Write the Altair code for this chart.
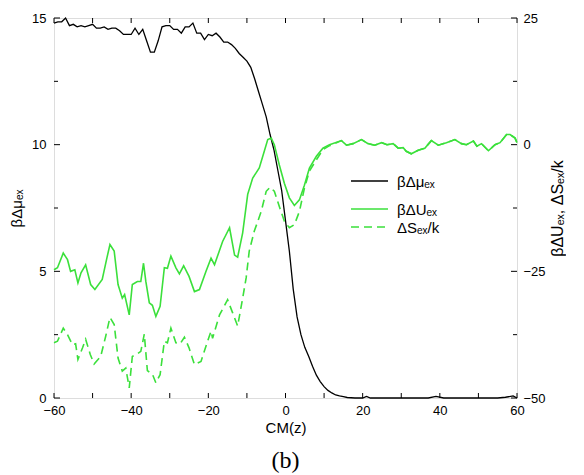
import altair as alt
import pandas as pd

# --- data ---
mu_x = [-60, -59, -58, -57, -56, -55, -54, -53, -52, -51, -50, -49, -48, -47, -46, -45, -44, -43,
        -42, -41, -40, -39, -38, -37, -36, -35, -34, -33, -32, -31, -30, -29, -28, -27, -26, -25,
        -24, -23, -22, -21, -20, -19, -18, -17, -16, -15, -14, -13, -12, -11, -10, -9, -8, -7, -6,
        -5, -4, -3, -2, -1, 0, 1, 2, 3, 4, 5, 6, 7, 8, 9, 10, 11, 12, 13, 14, 15, 16, 18, 20, 21,
        22, 24, 30, 37, 39, 41, 45, 55, 57, 59, 60]
mu_v = [14.8, 14.85, 14.85, 15.0, 14.7, 14.75, 14.65, 14.7, 14.65, 14.7, 14.75, 14.6, 14.6, 14.65,
        14.55, 14.6, 14.6, 14.5, 14.35, 14.35, 14.35, 14.6, 14.35, 14.55, 14.1, 13.65, 13.65, 14.1,
        14.65, 14.7, 14.7, 14.55, 14.55, 14.4, 14.65, 14.65, 14.8, 14.4, 14.4, 14.15, 14.35, 14.3,
        14.4, 14.25, 14.05, 14.05, 13.95, 13.8, 13.6, 13.45, 13.3, 13.05, 12.6, 12.1, 11.6, 11.1,
        10.4, 9.8, 9.0, 8.2, 7.0, 5.8, 4.3, 3.2, 2.5, 2.0, 1.65, 1.25, 0.9, 0.65, 0.45, 0.3, 0.2,
        0.12, 0.08, 0.05, 0.02, 0.0, 0.0, 0.06, 0.0, 0.0, 0.0, 0.0, 0.06, 0.0, 0.0, 0.0, 0.03, 0.08, 0.0]

u_x = [-60, -59.1, -57.6, -56.5, -55.7, -54.6, -53.8, -53, -51.8, -50.5, -49.4, -47.5, -46.3, -45.5,
       -44.4, -43.4, -42.3, -41.7, -40.5, -39.7, -38.4, -37.5, -36.8, -36.2, -35.3, -34.5, -33.6,
       -32.5, -31.4, -30.6, -29.7, -28.4, -27.5, -26.4, -25, -23.6, -22.3, -20.6, -19.3, -18.4,
       -16.3, -14.5, -13.2, -12.4, -11.1, -9.8, -8.5, -6.8, -5.5, -4.6, -3.7, -2.9, -1.6, -0.3,
       1.0, 2.3, 3.6, 4.9, 6.2, 8.0, 9.7, 11.4, 14.5, 15.8, 17.5, 19.7, 21.4, 23.1, 24.9, 26.3,
       27.9, 29.2, 30.5, 31.3, 32.6, 34.4, 36.1, 37.8, 39.6, 41.7, 43.9, 45.6, 46.9, 48.7, 49.6,
       50.8, 52.6, 54.3, 55.6, 57.3, 58.2, 59.5, 60]
u_v = [-24.7, -24.3, -21.4, -22.7, -25, -24.7, -27.3, -25.3, -23.7, -27.6, -28.6, -26.6, -22.4,
       -19.7, -21, -27.6, -30.3, -29.6, -33.6, -27.6, -27, -27, -23.4, -27, -31.2, -31.7, -33.9,
       -31.9, -24.3, -24.4, -22.0, -24.3, -25.5, -23.9, -26, -29, -28.6, -25, -22.4, -23.7, -19.1,
       -16.4, -21.8, -22.2, -17.4, -9.8, -6.6, -4.6, -1.3, 1.0, 1.3, 0.0, -4.0, -7.6, -10.5, -12.0,
       -10.9, -8.0, -4.6, -2.3, -0.7, 0.0, 0.8, -0.1, 0.2, 1.0, 0.2, -0.1, 0.4, 0.0, 0.2, -0.7,
       -0.6, -1.3, -1.8, -1.1, -0.7, 0.8, -0.1, 0.4, 1.0, 0.2, 0.0, 0.7, -0.3, 0.2, -1.2, 0.0, 0.4,
       2.0, 2.0, 1.3, 0.4]

s_x = [-60, -59.1, -57.6, -56.5, -55.2, -54.4, -53.8, -52.6, -51.8, -50.6, -49.6, -47.9, -46.6,
       -45.5, -44.4, -43.4, -42.3, -41.4, -40.5, -39.7, -38.4, -37.5, -36.6, -35.8, -34.5, -33.6,
       -32.5, -31.4, -30.6, -29.7, -28.4, -27.3, -26.2, -25, -23.6, -21.9, -20.2, -19.3, -18.9,
       -17.1, -15, -13.7, -12.4, -11.1, -10.2, -9.4, -8.1, -6.3, -5, -4, -2.9, -1.6, -0.3, 1.0,
       2.3, 3.6, 4.9, 6.2, 8.0, 9.7, 11.4, 14.5, 15.8, 17.5, 19.7, 21.4, 23.1, 24.9, 26.3, 27.9,
       29.2, 30.5, 31.3, 32.6, 34.4, 36.1, 37.8, 39.6, 41.7, 43.9, 45.6, 46.9, 48.7, 49.6, 50.8,
       52.6, 54.3, 55.6, 57.3, 58.2, 59.5, 60]
s_v = [-39.1, -38.8, -36.2, -37.5, -39.5, -39.3, -42.4, -40.1, -38.4, -41.4, -43.3, -41.8, -37.8,
       -34.1, -35.5, -42.1, -44.7, -44.1, -48.0, -41.8, -41.3, -40.8, -37.4, -44.6, -45.3, -47.0,
       -45.4, -38.8, -39.1, -36.2, -39.1, -39.3, -38.0, -40.1, -43.4, -42.8, -38.8, -36.8, -38.2,
       -33.6, -30.6, -33.2, -35.8, -30.3, -26.3, -21.0, -17.1, -13.2, -9.2, -8.4, -9.2, -12.2,
       -15.1, -16.4, -15.8, -13.2, -8.6, -5.2, -3.0, -1.0, -0.2, 0.8, -0.1, 0.2, 1.0, 0.2, -0.1,
       0.4, 0.0, 0.2, -0.7, -0.6, -1.3, -1.8, -1.1, -0.7, 0.8, -0.1, 0.4, 1.0, 0.2, 0.0, 0.7,
       -0.3, 0.2, -1.2, 0.0, 0.4, 2.0, 2.0, 1.3, 0.4]

x_ticks = [-60, -50, -40, -30, -20, -10, 0, 10, 20, 30, 40, 50, 60]
x_labels = [-60, -40, -20, 0, 20, 40, 60]
left_major = [0, 5, 10, 15]
left_minor = [2.5, 7.5, 12.5]
right_major = [-50, -25, 0, 25]
right_minor = [-37.5, -12.5, 12.5]

legend_labels = ["βΔμₑₓ", "βΔUₑₓ", "ΔSₑₓ/k"]

W, H = 463, 380
GREEN = "#3be03b"
FONT = "Liberation Sans"

xscale = alt.Scale(domain=[-60, 60], nice=False, zero=False)
xaxis = alt.Axis(values=x_labels, title="CM(z)", tickSize=0, domain=False, grid=False,
                 labelFontSize=13, titleFontSize=15, labelPadding=6, titlePadding=3,
                 labelFlush=False,
                 titleFont=FONT, labelFont=FONT, titleFontWeight="normal", labelColor="black",
                 titleColor="black")
lscale = alt.Scale(domain=[0, 15], nice=False, zero=False)
laxis = alt.Axis(values=left_major, title="βΔμₑₓ", tickSize=0, domain=False, grid=False,
                 labelFontSize=13, titleFontSize=15, labelPadding=8, titlePadding=7,
                 labelFlush=False,
                 titleFont=FONT, labelFont=FONT, titleFontWeight="normal", labelColor="black",
                 titleColor="black")
rscale = alt.Scale(domain=[-50, 25], nice=False, zero=False)
raxis = alt.Axis(values=right_major, title="βΔUₑₓ, ΔSₑₓ/k", orient="right", tickSize=0,
                 domain=False, grid=False, labelFontSize=13, titleFontSize=16, labelPadding=6,
                 titlePadding=20, titleAngle=270, titleFont=FONT, labelFont=FONT,
                 labelFlush=False,
                 titleFontWeight="normal", labelColor="black", titleColor="black")

mu_df = pd.DataFrame({"x": mu_x, "v": mu_v})
u_df = pd.DataFrame({"x": u_x, "v": u_v})
s_df = pd.DataFrame({"x": s_x, "v": s_v})

black = alt.Chart(mu_df).mark_line(color="black", strokeWidth=1.3).encode(
    x=alt.X("x:Q", scale=xscale, axis=xaxis),
    y=alt.Y("v:Q", scale=lscale, axis=laxis),
)

lt_major = alt.Chart(pd.DataFrame({"v": left_major})).mark_rule(color="black", strokeWidth=1).encode(
    y=alt.Y("v:Q", scale=lscale, axis=laxis), x=alt.value(0), x2=alt.value(6))
lt_minor = alt.Chart(pd.DataFrame({"v": left_minor})).mark_rule(color="black", strokeWidth=1).encode(
    y=alt.Y("v:Q", scale=lscale, axis=laxis), x=alt.value(0), x2=alt.value(4))
xt_bottom = alt.Chart(pd.DataFrame({"t": x_ticks})).mark_rule(color="black", strokeWidth=1).encode(
    x=alt.X("t:Q", scale=xscale, axis=xaxis), y=alt.value(H), y2=alt.value(H - 5))
xt_top = alt.Chart(pd.DataFrame({"t": x_ticks})).mark_rule(color="black", strokeWidth=1).encode(
    x=alt.X("t:Q", scale=xscale, axis=xaxis), y=alt.value(0), y2=alt.value(5))

leg_black = alt.Chart(pd.DataFrame({"l": [legend_labels[0]]})).mark_rule(color="black", strokeWidth=1.3).encode(
    x=alt.value(297), x2=alt.value(334), y=alt.value(163))
leg_solid = alt.Chart(pd.DataFrame({"l": [legend_labels[1]]})).mark_rule(color=GREEN, strokeWidth=1.6).encode(
    x=alt.value(297), x2=alt.value(334), y=alt.value(191))
leg_dash = alt.Chart(pd.DataFrame({"l": [legend_labels[2]]})).mark_rule(
    color=GREEN, strokeWidth=1.6, strokeDash=[8, 5]).encode(
    x=alt.value(297), x2=alt.value(334), y=alt.value(209))

def leg_text(lbl, y):
    return alt.Chart(pd.DataFrame({"l": [lbl]})).mark_text(
        align="left", baseline="middle", fontSize=15, font=FONT, color="black").encode(
        x=alt.value(343), y=alt.value(y), text="l:N")

left = alt.layer(black, lt_major, lt_minor, xt_bottom, xt_top, leg_black, leg_solid, leg_dash,
                 leg_text(legend_labels[0], 164), leg_text(legend_labels[1], 192),
                 leg_text(legend_labels[2], 210))

solid = alt.Chart(u_df).mark_line(color=GREEN, strokeWidth=1.6).encode(
    x=alt.X("x:Q", scale=xscale, axis=xaxis),
    y=alt.Y("v:Q", scale=rscale, axis=raxis),
)
dashed = alt.Chart(s_df).mark_line(color=GREEN, strokeWidth=1.6, strokeDash=[8, 5]).encode(
    x=alt.X("x:Q", scale=xscale, axis=xaxis),
    y=alt.Y("v:Q", scale=rscale, axis=raxis),
)
rt_major = alt.Chart(pd.DataFrame({"v": right_major})).mark_rule(color="black", strokeWidth=1).encode(
    y=alt.Y("v:Q", scale=rscale, axis=raxis), x=alt.value(W), x2=alt.value(W - 6))
rt_minor = alt.Chart(pd.DataFrame({"v": right_minor})).mark_rule(color="black", strokeWidth=1).encode(
    y=alt.Y("v:Q", scale=rscale, axis=raxis), x=alt.value(W), x2=alt.value(W - 4))

right = alt.layer(solid, dashed, rt_major, rt_minor)

chart = alt.layer(left, right).resolve_scale(y="independent").properties(
    width=W, height=H,
    title=alt.TitleParams("(b)", orient="bottom", font="Liberation Serif", fontSize=24,
                          fontWeight="normal", color="black", offset=14),
    padding={"left": 1, "right": 0, "top": 4, "bottom": 0},
).configure_view(stroke="black", strokeWidth=1.5).configure(background="white")

chart.save("out.html", embed_options={"renderer": "svg", "actions": False})
